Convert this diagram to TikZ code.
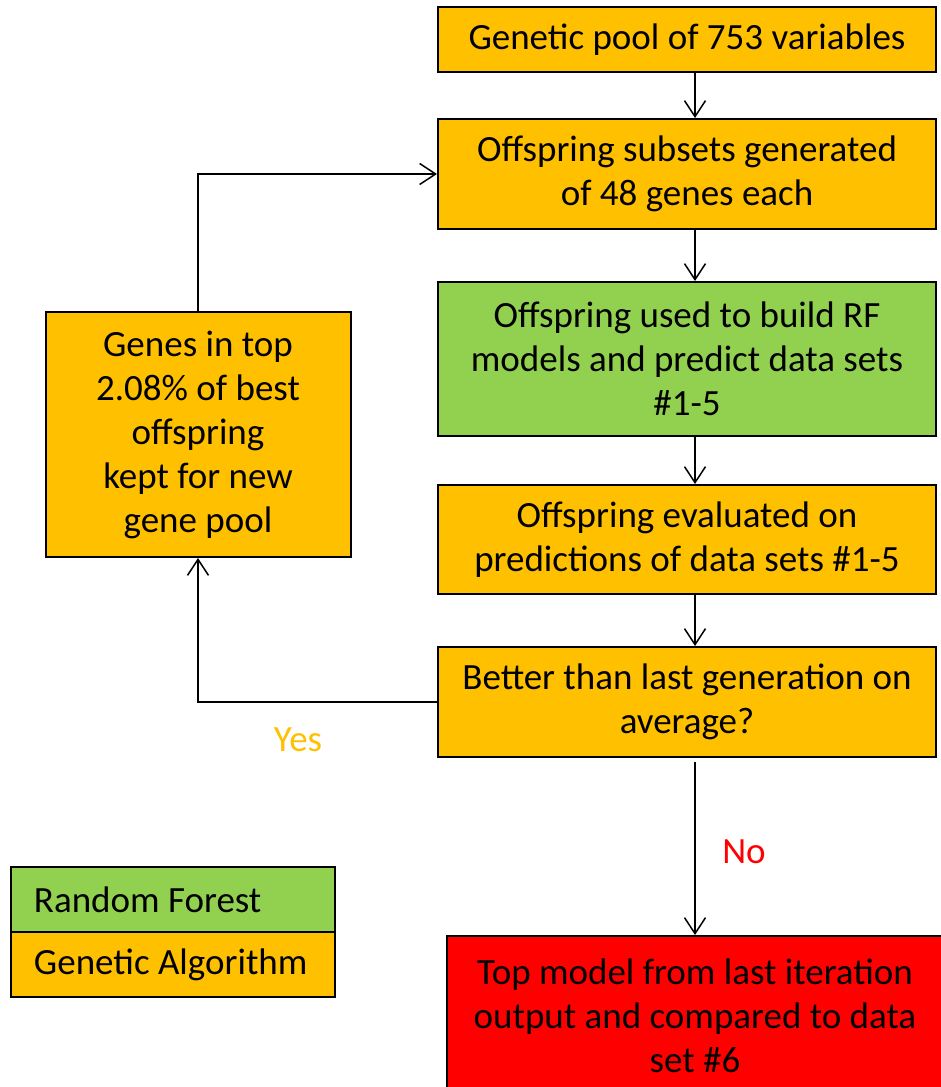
\documentclass[tikz,border=0pt]{standalone}
\usepackage{fontspec}
\setmainfont{Carlito}
\usetikzlibrary{arrows.meta}
\definecolor{gaorange}{HTML}{FFC000}
\definecolor{rfgreen}{HTML}{92D050}
\definecolor{outred}{HTML}{FF0000}
\newcommand{\legtext}[1]{\makebox[278pt][l]{#1}}
\begin{document}
\begin{tikzpicture}[x=1pt,y=-1pt,
  box/.style={draw=black, line width=2pt, align=center, inner sep=0pt,
    font=\fontsize{37}{44}\selectfont, text=black},
  gabox/.style={box, fill=gaorange},
  rfbox/.style={box, fill=rfgreen},
  redbox/.style={box, fill=outred},
  legbox/.style={draw=black, line width=2pt, inner sep=0pt, minimum width=324pt, minimum height=65pt,
    font=\fontsize{37}{44}\selectfont},
  conn/.style={draw=black, line width=1.5pt, -{Straight Barb[length=16pt,width=21pt,line width=1.5pt]}},
  lbl/.style={font=\fontsize{37}{44}\selectfont}
]
\useasboundingbox (0,0) rectangle (941,1087);
\node[gabox, minimum width=498pt, minimum height=65pt] (pool) at (687,39.5) {Genetic pool of 753 variables};
\node[gabox, minimum width=498pt, minimum height=110pt] (sub) at (687,174) {Offspring subsets generated\\of 48 genes each};
\node[rfbox, minimum width=498pt, minimum height=154pt] (rf) at (687,359) {Offspring used to build RF\\models and predict data sets\\\#1-5};
\node[gabox, minimum width=498pt, minimum height=109pt] (eval) at (687,539.5) {Offspring evaluated on\\predictions of data sets \#1-5};
\node[gabox, minimum width=498pt, minimum height=110pt] (better) at (687,702) {Better than last generation on\\average?};
\node[redbox, minimum width=496pt, minimum height=160pt] (top) at (695,1016) {Top model from last iteration\\output and compared to data\\set \#6};
\node[gabox, minimum width=305pt, minimum height=245pt] (keep) at (198,434.5) {Genes in top\\2.08\% of best\\offspring\\kept for new\\gene pool};
\node[legbox, fill=rfgreen, anchor=north west] (legrf) at (10,866) {\legtext{Random Forest}};
\node[legbox, fill=gaorange, anchor=north west] (legga) at (10,931) {\legtext{Genetic Algorithm}};

\draw[conn] (pool.south -| 695,0) -- (sub.north -| 695,0);
\draw[conn] (sub.south -| 695,0) -- (rf.north -| 695,0);
\draw[conn] (rf.south -| 695,0) -- (eval.north -| 695,0);
\draw[conn] (eval.south -| 695,0) -- (better.north -| 695,0);
\draw[conn] (better.south -| 695,0) ++(0,4) -- (top.north -| 695,0);
\draw[conn] (better.west) -- (better.west -| keep.south) -- (keep.south);
\draw[conn] (keep.north) -- (keep.north |- sub.west) -- (sub.west);

\node[lbl, text=gaorange] (yes) at (298,740) {Yes};
\node[lbl, text=outred] (no) at (744,852) {No};
\end{tikzpicture}
\end{document}
